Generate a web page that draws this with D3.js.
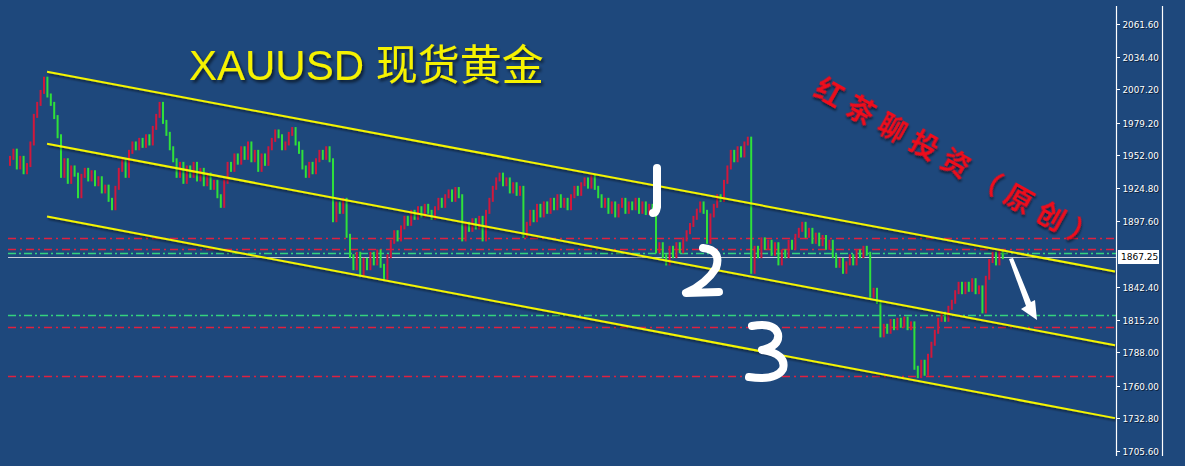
<!DOCTYPE html>
<html><head><meta charset="utf-8">
<script src="https://cdn.jsdelivr.net/npm/d3@7"></script>
<style>html,body{margin:0;padding:0;background:#1e487c;overflow:hidden}</style>
</head><body>
<svg id="c" width="1185" height="466"></svg>
<script>
// ---------- DATA ----------
const closes = [
1950,1956,1942,1950,1938,1944,1962,1985,1995,2005,
2016,2002,1995,1984,1968,1935,1948,1930,1942,1936,
1918,1935,1940,1932,1938,1928,1933,1922,1926,1915,
1908,1925,1940,1948,1935,1955,1962,1958,1965,1960,
1968,1962,1975,1985,1995,1980,1970,1958,1948,1935,
1945,1930,1942,1935,1945,1932,1940,1928,1936,1925,
1930,1918,1910,1930,1945,1940,1952,1946,1958,1950,
1962,1948,1955,1940,1952,1945,1958,1965,1972,1968,
1958,1962,1970,1974,1962,1955,1942,1935,1945,1938,
1948,1955,1950,1958,1948,1898,1912,1905,1915,1885,
1868,1858,1870,1852,1865,1858,1870,1862,1872,1860,
1850,1868,1880,1888,1882,1892,1900,1895,1905,1900,
1908,1902,1910,1905,1900,1908,1915,1910,1918,1922,
1915,1924,1918,1882,1895,1890,1898,1892,1900,1882,
1905,1915,1925,1932,1936,1928,1932,1922,1928,1920,
1925,1885,1895,1905,1898,1910,1902,1912,1905,1915,
1908,1918,1910,1915,1908,1918,1925,1920,1928,1932,
1926,1934,1925,1918,1910,1915,1905,1912,1902,1910,
1915,1905,1912,1908,1915,1905,1912,1904,1910,1906,
1872,1878,1868,1862,1875,1868,1878,1872,1882,1888,
1894,1900,1906,1912,1905,1880,1902,1910,1918,1915,
1930,1942,1955,1948,1958,1952,1962,1966,1855,1875,
1868,1882,1875,1880,1870,1878,1862,1872,1868,1880,
1875,1885,1890,1895,1885,1890,1880,1886,1878,1884,
1875,1880,1868,1860,1865,1855,1862,1868,1862,1872,
1868,1875,1870,1835,1840,1830,1802,1810,1805,1814,
1808,1815,1810,1816,1808,1812,1775,1768,1780,1770,
1785,1795,1805,1815,1820,1815,1825,1830,1838,1845,
1838,1845,1840,1848,1838,1842,1822,1850,1864,1870,
1862,1872,1867.25
];
const firstOpen = 1945;
const tickValues = [2061.60,2034.40,2007.20,1979.20,1952.00,1924.80,1897.60,1842.40,1815.20,1788.00,1760.00,1732.80,1705.60];
const currentPrice = 1867.25;
// channel lines: start/end bar index and price
const channelStart = [10.9, 10.9, 10.9];
const channelStartPrice = [2021.7, 1961.8, 1901.1];
const channelEnd = [325, 325, 325];
const channelEndPrice = [1855.3, 1793.8, 1733.0];
// horizontal levels
const levelPrices = [1883.6, 1873.6, 1870.3, 1818.7, 1808.7, 1768.0];
const levelKinds  = ["red","red","green","green","red","red"];
const titleText = "XAUUSD 现货黄金";
const watermark = "红茶聊投资（原创）";

// ---------- SCALES ----------
const svg = d3.select("#c");
const x = d3.scaleLinear().domain([0, 325]).range([10, 1115]);
const y = d3.scaleLinear().domain([1705.6, 2061.6]).range([451, 24]);

const defs = svg.append("defs");
const f = defs.append("filter").attr("id","sh").attr("x","-10%").attr("y","-10%").attr("width","130%").attr("height","140%");
f.append("feDropShadow").attr("dx",1.5).attr("dy",2).attr("stdDeviation",1.2).attr("flood-color","#000").attr("flood-opacity",0.55);
const f2 = defs.append("filter").attr("id","sh2").attr("x","-10%").attr("y","-10%").attr("width","130%").attr("height","140%");
f2.append("feDropShadow").attr("dx",2).attr("dy",2.5).attr("stdDeviation",1.5).attr("flood-color","#000").attr("flood-opacity",0.6);

// ---------- LEVEL LINES ----------
const levColor = {red:"#e0203f", green:"#34d27e"};
svg.append("g").selectAll("line").data(levelPrices).join("line")
  .attr("x1", 8).attr("x2", 1116)
  .attr("y1", d=>Math.round(y(d))+0.5).attr("y2", d=>Math.round(y(d))+0.5)
  .attr("stroke", (d,i)=>levColor[levelKinds[i]])
  .attr("stroke-width", 1.4)
  .attr("stroke-dasharray", (d,i)=> levelKinds[i]==="red" ? "8,4,2,4" : "8,3,2,3");

// current price line
svg.append("line").attr("x1",8).attr("x2",1116)
  .attr("y1", Math.round(y(currentPrice))+0.5).attr("y2", Math.round(y(currentPrice))+0.5)
  .attr("stroke","#c9cfd8").attr("stroke-width",1);

// ---------- BARS ----------
const bars = closes.map((c,i)=>({i, o: i===0?firstOpen:closes[i-1], c}));
svg.append("g").selectAll("rect").data(bars).join("rect")
  .attr("x", d=>x(d.i)-1)
  .attr("width", 2)
  .attr("y", d=>y(Math.max(d.o,d.c)) - 2)
  .attr("height", d=>Math.abs(y(d.o)-y(d.c)) + 4)
  .attr("fill", d=> d.c>=d.o ? "#d0183c" : "#2fe03a");

// ---------- CHANNEL LINES ----------
svg.append("g").attr("filter","url(#sh)").selectAll("line").data(channelStart).join("line")
  .attr("x1",(d)=>x(d)).attr("y1",(d,i)=>y(channelStartPrice[i]))
  .attr("x2",(d,i)=>x(channelEnd[i])).attr("y2",(d,i)=>y(channelEndPrice[i]))
  .attr("stroke","#f5f500").attr("stroke-width",2);

// ---------- AXIS ----------
const ax = svg.append("g");
ax.append("line").attr("x1",1116.5).attr("x2",1116.5).attr("y1",6).attr("y2",456).attr("stroke","#fff").attr("stroke-width",1.2);
ax.append("line").attr("x1",1162.5).attr("x2",1162.5).attr("y1",6).attr("y2",456).attr("stroke","#fff").attr("stroke-width",1.2);
const tk = ax.selectAll("g.t").data(tickValues).join("g").attr("class","t")
  .attr("transform", d=>`translate(0,${Math.round(y(d))+0.5})`);
tk.append("line").attr("x1",1116).attr("x2",1120).attr("stroke","#fff");
tk.append("text").attr("x",1123.5).attr("y",1).attr("dy","0.35em")
  .attr("fill","#0b1e38").attr("font-family","'DejaVu Sans', sans-serif").attr("font-size",8.8)
  .text(d=>d.toFixed(2));
tk.append("text").attr("x",1122.5).attr("y",0).attr("dy","0.35em")
  .attr("fill","#fff").attr("font-family","'DejaVu Sans', sans-serif").attr("font-size",8.8)
  .text(d=>d.toFixed(2));
// current price label
const cp = Math.round(y(currentPrice));
ax.append("rect").attr("x",1118).attr("y",cp-7).attr("width",41).attr("height",14).attr("fill","#fff");
ax.append("text").attr("x",1121).attr("y",cp).attr("dy","0.35em").attr("fill","#000")
  .attr("font-family","'DejaVu Sans', sans-serif").attr("font-size",9).text(currentPrice.toFixed(2));

// ---------- TITLE ----------
svg.append("text").attr("x",189).attr("y",80).attr("filter","url(#sh2)")
  .attr("fill","#f6f200").attr("font-family","'Liberation Sans','Noto Sans CJK SC',sans-serif")
  .attr("font-size",42).text(titleText);

// ---------- WATERMARK ----------
svg.append("text").attr("transform","translate(818,84) rotate(29.3)")
  .attr("x",0).attr("y",0).attr("dominant-baseline","central")
  .attr("fill","#ee0a1a").attr("filter","url(#sh)")
  .attr("font-family","'Noto Sans CJK SC',sans-serif").attr("font-weight",700)
  .attr("font-size",28).attr("textLength",318).attr("lengthAdjust","spacing")
  .text(watermark);

// ---------- HAND-DRAWN ANNOTATIONS ----------
const ann = svg.append("g").attr("fill","none").attr("stroke","#fff").attr("stroke-width",8)
  .attr("stroke-linecap","round").attr("stroke-linejoin","round");
ann.append("path").attr("d","M657,168 L657,207 Q656,213 653,213");
ann.append("path").attr("d","M703,248 Q722,250 716,268 Q706,284 686,293 L719,292");
ann.append("path").attr("d","M752,326 Q774,322 778,334 Q780,346 762,350 Q787,354 783,369 Q776,381 749,377");
svg.append("polygon")
  .attr("points","1009,259 1013,258 1031,302 1035,300 1037,320 1021,309 1026,306")
  .attr("fill","#fff");
</script>
</body></html>
